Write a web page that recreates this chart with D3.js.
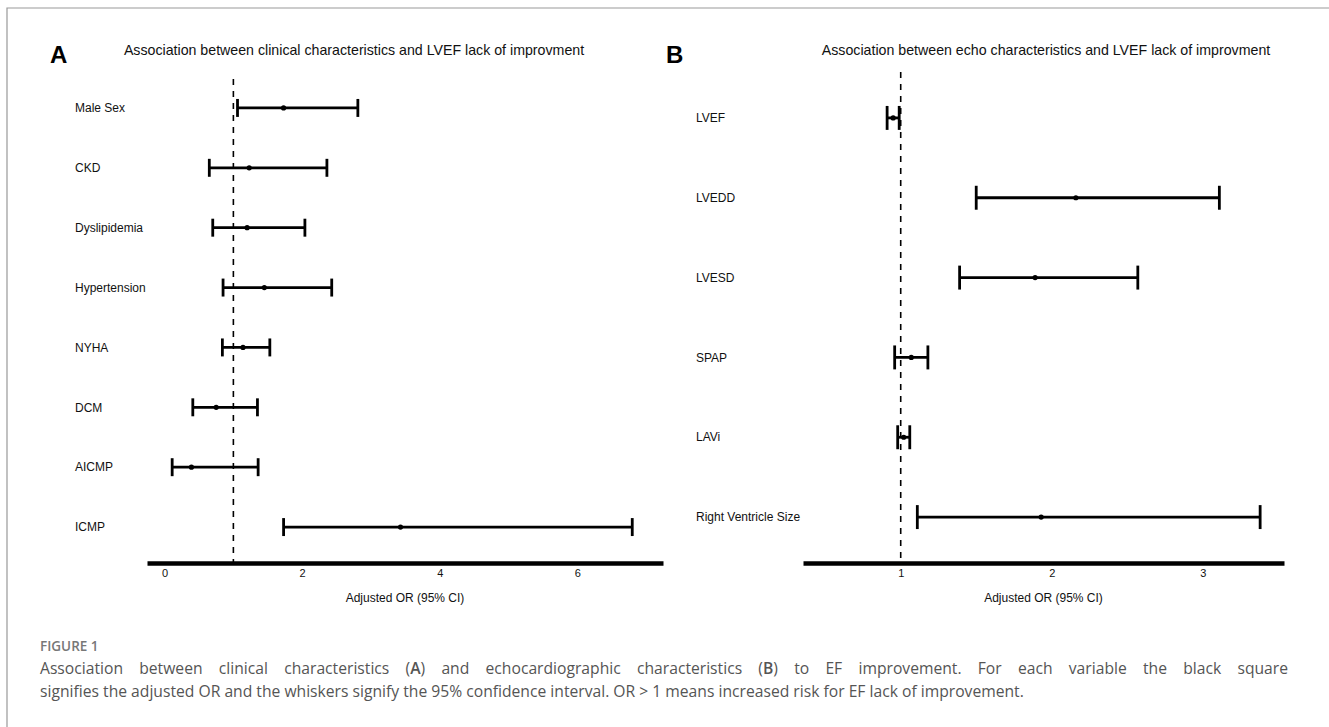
<!DOCTYPE html>
<html>
<head>
<meta charset="utf-8">
<script src="https://cdn.jsdelivr.net/npm/d3@7"></script>
<style>
  body { margin: 0; background: #fff; }
  svg { display: block; font-family: "Liberation Sans", Arial, sans-serif; }
  .row-label { font-size: 12px; fill: #111; }
  .panel-title { font-size: 14.2px; fill: #111; }
  .panel-letter { font-size: 24px; font-weight: bold; fill: #000; }
  .axis-title { font-size: 12px; fill: #111; }
  .x-axis text { font-size: 11px; fill: #111; font-family: "Liberation Sans", Arial, sans-serif; }
  .x-axis .domain { stroke: #000; stroke-width: 4.5; }
  .ref-line { stroke: #000; stroke-width: 1.6; stroke-dasharray: 6 6; }
  .ci { stroke: #000; stroke-width: 2.8; fill: none; }
  .or-point { fill: #000; }
  .caption { font-family: "Open Sans", "Noto Sans", sans-serif; fill: #555; font-size: 16.5px; }
  .caption-head { font-family: "Open Sans", "Noto Sans", sans-serif; font-weight: 600; fill: #777; font-size: 13.5px; }
  .frame { stroke: #999; stroke-width: 1.2; fill: none; }
</style>
</head>
<body>
<svg width="1329" height="727"></svg>
<script>
// panel A: clinical characteristics
const clinicalLabels = ["Male Sex", "CKD", "Dyslipidemia", "Hypertension", "NYHA", "DCM", "AICMP", "ICMP"];
const clinicalOR     = [1.73, 1.23, 1.20, 1.45, 1.14, 0.75, 0.39, 3.43];
const clinicalLow    = [1.06, 0.65, 0.70, 0.85, 0.84, 0.41, 0.11, 1.73];
const clinicalHigh   = [2.81, 2.36, 2.04, 2.43, 1.53, 1.35, 1.36, 6.80];
const clinicalTicks  = [0, 2, 4, 6];
const clinicalDomain = [-0.256, 7.247];

// panel B: echo characteristics
const echoLabels = ["LVEF", "LVEDD", "LVESD", "SPAP", "LAVi", "Right Ventricle Size"];
const echoOR     = [0.95, 2.16, 1.89, 1.07, 1.02, 1.93];
const echoLow    = [0.91, 1.50, 1.39, 0.96, 0.98, 1.11];
const echoHigh   = [0.99, 3.11, 2.57, 1.18, 1.06, 3.38];
const echoTicks  = [1, 2, 3];
const echoDomain = [0.353, 3.538];

const clinicalTitle = "Association between clinical characteristics and LVEF lack of improvment";
const echoTitle = "Association between echo characteristics and LVEF lack of improvment";
const axisTitle = "Adjusted OR (95% CI)";

const refValue = 1;

const zip = (labels, or, low, high) => labels.map((name, i) => ({ name, or: or[i], low: low[i], high: high[i] }));

window.onload = () => {
  const svg = d3.select("svg");

  svg.append("path")
    .attr("class", "frame")
    .attr("d", "M7,740 L7,8 L1340,8");

  drawPanel(svg, {
    data: zip(clinicalLabels, clinicalOR, clinicalLow, clinicalHigh),
    domain: clinicalDomain,
    ticks: clinicalTicks,
    range: [147, 663],
    labelX: 75,
    refTop: 79,
    letter: "A", letterX: 50,
    title: clinicalTitle, titleX: 354
  });

  drawPanel(svg, {
    data: zip(echoLabels, echoOR, echoLow, echoHigh),
    domain: echoDomain,
    ticks: echoTicks,
    range: [803, 1284],
    labelX: 696,
    refTop: 72,
    letter: "B", letterX: 666,
    title: echoTitle, titleX: 1046
  });

  drawCaption(svg);
}

const drawPanel = (svg, opt) => {
  const top = 78, bottom = 557, axisY = 563;

  const x = d3.scaleLinear()
    .domain(opt.domain)
    .range(opt.range);

  const y = d3.scaleBand()
    .domain(opt.data.map(d => d.name))
    .range([top, bottom]);

  const g = svg.append("g");
  const capH = y.bandwidth() * 0.3;

  g.append("text")
    .attr("class", "panel-letter")
    .attr("x", opt.letterX)
    .attr("y", 63)
    .text(opt.letter);

  g.append("text")
    .attr("class", "panel-title")
    .attr("x", opt.titleX)
    .attr("y", 55)
    .attr("text-anchor", "middle")
    .text(opt.title);

  g.selectAll(".row-label")
    .data(opt.data)
    .join("text")
      .attr("class", "row-label")
      .attr("x", opt.labelX)
      .attr("y", d => y(d.name) + y.bandwidth() / 2)
      .attr("dy", "0.35em")
      .text(d => d.name);

  g.append("line")
    .attr("class", "ref-line")
    .attr("x1", x(refValue))
    .attr("x2", x(refValue))
    .attr("y1", opt.refTop)
    .attr("y2", axisY);

  const rows = g.selectAll(".row")
    .data(opt.data)
    .join("g")
      .attr("class", "row")
      .attr("transform", d => `translate(0, ${y(d.name) + y.bandwidth() / 2})`);

  rows.append("line")
    .attr("class", "ci")
    .attr("x1", d => x(d.low))
    .attr("x2", d => x(d.high));

  rows.append("line")
    .attr("class", "ci")
    .attr("x1", d => x(d.low))
    .attr("x2", d => x(d.low))
    .attr("y1", -capH / 2)
    .attr("y2", capH / 2);

  rows.append("line")
    .attr("class", "ci")
    .attr("x1", d => x(d.high))
    .attr("x2", d => x(d.high))
    .attr("y1", -capH / 2)
    .attr("y2", capH / 2);

  rows.append("circle")
    .attr("class", "or-point")
    .attr("cx", d => x(d.or))
    .attr("r", 2.6);

  g.append("g")
    .attr("class", "x-axis")
    .attr("transform", `translate(0, ${axisY})`)
    .call(d3.axisBottom(x)
      .tickValues(opt.ticks)
      .tickFormat(d3.format("d"))
      .tickSize(0)
      .tickPadding(6))
    .call(a => a.selectAll(".tick text").attr("fill", "#111"));

  g.append("text")
    .attr("class", "axis-title")
    .attr("x", (opt.range[0] + opt.range[1]) / 2)
    .attr("y", 602)
    .attr("text-anchor", "middle")
    .text(axisTitle);
}

const drawCaption = (svg) => {
  const left = 40;

  svg.append("text")
    .attr("class", "caption-head")
    .attr("x", left)
    .attr("y", 651)
    .text("FIGURE 1");

  const cap = svg.append("g");

  const line1 = cap.append("text")
    .attr("class", "caption")
    .attr("x", 0)
    .attr("y", 674);

  [["Association between clinical characteristics (", false], ["A", true],
   [") and echocardiographic characteristics (", false], ["B", true],
   [") to EF improvement. For each variable the black square", false]]
    .forEach(([t, bold]) => line1.append("tspan")
      .attr("font-weight", bold ? 600 : null)
      .text(t));

  const line2 = cap.append("text")
    .attr("class", "caption")
    .attr("x", 0)
    .attr("y", 697)
    .text("signifies the adjusted OR and the whiskers signify the 95% confidence interval. OR > 1 means increased risk for EF lack of improvement.");

  // the figure's caption font is narrow: squeeze so line 2 ends where it does
  const sx = 985 / line2.node().getComputedTextLength();
  cap.attr("transform", `translate(${left}, 0) scale(${sx}, 1)`);

  // justify line 1 with word spacing
  const w1 = line1.node().getComputedTextLength();
  const spaces = line1.text().split(" ").length - 1;
  line1.style("word-spacing", ((1248 / sx - w1) / spaces) + "px");
}
</script>
</body>
</html>
